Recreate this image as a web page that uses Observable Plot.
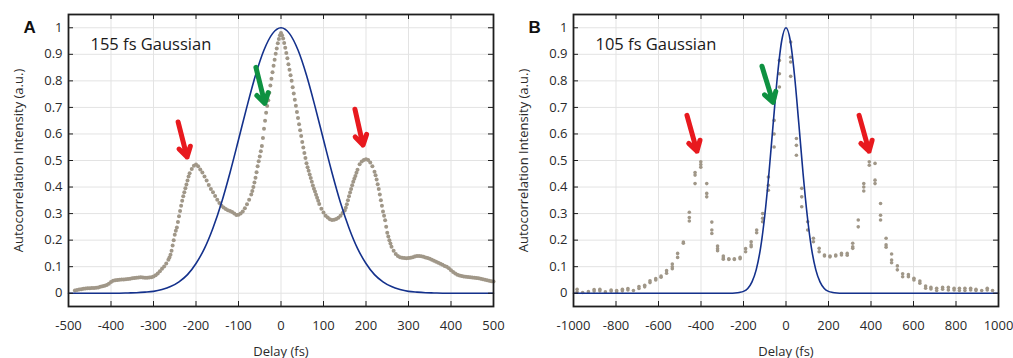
<!DOCTYPE html>
<html><head><meta charset="utf-8">
<script src="https://cdn.jsdelivr.net/npm/d3@7"></script>
<script src="https://cdn.jsdelivr.net/npm/@observablehq/plot@0.6"></script>
<style>
html,body{margin:0;padding:0;background:#fff;}
#wrap{position:relative;width:1013px;height:358px;overflow:hidden;}
#pa{position:absolute;left:0;top:0;}
#pb{position:absolute;left:506px;top:0;}
</style></head>
<body><div id="wrap"><div id="pa"></div><div id="pb"></div></div>
<script>
// ---------- shared ticks ----------
const yTicks = [0, 0.1, 0.2, 0.3, 0.4, 0.5, 0.6, 0.7, 0.8, 0.9, 1];
const yTickLabels = ["0", "0.1", "0.2", "0.3", "0.4", "0.5", "0.6", "0.7", "0.8", "0.9", "1"];
const xTicksA = [-500, -400, -300, -200, -100, 0, 100, 200, 300, 400, 500];
const xTicksB = [-1000, -800, -600, -400, -200, 0, 200, 400, 600, 800, 1000];

// ---------- panel A: measured autocorrelation (155 fs) ----------
const delayA = [
-485,-480,-475,-470,-465,-460,-455,-450,-445,-440,-435,-430,-425,-420,-415,-410,-405,-400,
-395,-390,-385,-380,-375,-370,-365,-360,-355,-350,-345,-340,-335,-330,-325,-320,-315,-310,-305,-300,
-295,-290,-285,-280,-275,-270,-265,-262.5,-260,-257.5,-255,-252.5,-250,-247.5,-245,-242.5,-240,-237.5,
-235,-232.5,-230,-227.5,-225,-222.5,-220,-217.5,-215,-210,-205,-200,
-195,-190,-185,-180,-175,-170,-165,-160,-155,-150,-145,-140,-135,-130,-125,-120,-115,-110,-105,-100,
-95,-90,-85,-80,-75,-70,-67.5,-65,-62.5,-60,-57.5,-55,-52.5,-50,-47.5,-45,-42.5,-40,-37.5,-35,-32.5,-30,
-27.5,-25,-22.5,-20,-17.5,-15,-12.5,-10,-7.5,-5,-2.5,0,
2.5,5,7.5,10,12.5,15,17.5,20,22.5,25,27.5,30,32.5,35,37.5,40,42.5,45,47.5,50,52.5,55,57.5,60,
62.5,65,67.5,70,72.5,75,77.5,80,82.5,85,87.5,90,95,100,105,110,115,120,125,130,135,140,145,150,
152.5,155,157.5,160,162.5,165,167.5,170,172.5,175,177.5,180,185,190,195,200,
205,210,215,220,222.5,225,227.5,230,232.5,235,237.5,240,242.5,245,247.5,250,252.5,255,257.5,260,
265,270,275,280,285,290,295,300,305,310,315,320,325,330,335,340,345,350,355,360,365,370,375,380,385,390,395,400,
405,410,415,420,425,430,435,440,445,450,455,460,465,470,475,480,485,490,495,500
];
const signalA = [
.010,.012,.014,.015,.017,.018,.019,.019,.020,.020,.021,.022,.024,.026,.028,.031,.036,.042,
.047,.049,.050,.051,.052,.052,.053,.054,.055,.056,.057,.058,.059,.060,.059,.058,.058,.059,.060,.063,
.068,.074,.083,.092,.101,.112,.126,.135,.145,.160,.180,.200,.220,.235,.248,.268,.290,.310,
.330,.348,.365,.380,.395,.410,.425,.440,.452,.468,.480,.485,
.478,.466,.455,.440,.425,.408,.393,.380,.366,.352,.340,.330,.323,.317,.313,.310,.306,.300,.295,.296,
.300,.308,.320,.335,.352,.372,.385,.400,.417,.435,.456,.478,.497,.515,.535,.555,.585,.620,.650,.680,.705,.727,
.755,.783,.808,.832,.857,.880,.902,.922,.942,.958,.972,.980,
.972,.960,.943,.925,.905,.885,.863,.842,.821,.800,.776,.752,.729,.706,.683,.660,.637,.614,.592,.570,.549,.528,.509,.490,
.475,.461,.447,.434,.420,.406,.394,.383,.371,.360,.348,.336,.318,.304,.292,.285,.279,.276,.277,.280,.284,.292,.302,.312,
.322,.335,.350,.365,.379,.393,.407,.420,.431,.442,.454,.465,.486,.496,.502,.505,
.502,.492,.478,.458,.444,.428,.411,.393,.372,.350,.330,.308,.292,.275,.250,.228,.214,.200,.187,.175,
.160,.148,.140,.136,.134,.133,.132,.133,.134,.136,.138,.140,.140,.139,.137,.135,.133,.130,.126,.122,.119,.115,.111,.107,.103,.100,.094,.087,
.080,.074,.070,.067,.065,.063,.062,.061,.060,.059,.058,.057,.056,.055,.053,.051,.049,.047,.045,.044
];
// Gaussian fit, panel A
const gaussDelayA = [-500,-480,-460,-440,-420,-400,-380,-360,-340,-320,-300,-280,-260,-240,-220,-200,-180,-160,-140,-120,-100,-80,-60,-40,-20,
0,20,40,60,80,100,120,140,160,180,200,220,240,260,280,300,320,340,360,380,400,420,440,460,480,500];
const gaussA = [0,0,0,0,0,0,0,.001,.002,.004,.007,.014,.025,.043,.070,.112,.169,.246,.341,.454,.578,.704,.821,.916,.978,
1,.978,.916,.821,.704,.578,.454,.341,.246,.169,.112,.070,.043,.025,.014,.007,.004,.002,.001,0,0,0,0,0,0,0];
const arrowsA = [
  {x1: -242, y1: 0.645, x2: -221, y2: 0.513, kind: "side"},
  {x1: -59, y1: 0.851, x2: -38, y2: 0.715, kind: "main"},
  {x1: 174, y1: 0.693, x2: 193, y2: 0.558, kind: "side"}
];

// ---------- panel B: measured autocorrelation (105 fs) ----------
const delayB = [
-983,-983,-957,-930,-903,-903,-876,-876,-850,-823,-823,-797,-797,-770,-770,-744,-744,-718,
-692,-692,-665,-665,-640,-640,-613,-613,-588,-588,-562,-562,-535,-535,-535,-510,-510,-483,-483,
-455,-455,-455,-428,-428,-428,-401,-401,-401,-373,-373,-373,-349,-349,-349,-322,-322,-322,
-295,-295,-295,-269,-269,-243,-243,-216,-216,-190,-190,-164,-164,-164,-138,-138,
-110,-110,-110,-83,-83,-83,-56,-56,-56,-31,-31,-31,22,22,22,22,
49,49,49,74,74,74,102,102,129,129,156,156,181,181,207,207,234,234,261,261,288,288,
314,314,314,340,340,366,366,366,392,392,419,419,419,445,445,445,471,471,471,497,497,497,
524,524,549,549,576,576,602,602,630,630,657,657,682,682,709,709,737,737,764,764,
791,791,816,816,842,842,869,869,894,894,921,947,947,972
];
const signalB = [
.015,.005,.003,.006,.014,.008,.015,.009,.005,.008,.012,.010,.005,.015,.009,.018,.012,.010,
.025,.018,.030,.024,.047,.040,.055,.050,.065,.060,.085,.075,.110,.100,.092,.150,.135,.193,.188,
.305,.285,.272,.455,.445,.413,.495,.485,.475,.413,.376,.363,.268,.238,.225,.178,.168,.160,
.140,.133,.128,.130,.127,.130,.127,.135,.130,.168,.156,.194,.182,.175,.238,.228,
.300,.282,.269,.438,.407,.388,.651,.600,.551,.877,.827,.777,.946,.889,.871,.817,
.583,.557,.520,.395,.363,.326,.269,.238,.207,.194,.169,.156,.144,.140,.140,.137,.144,.140,.150,.144,.150,.143,
.188,.175,.169,.276,.250,.413,.400,.385,.495,.482,.489,.426,.413,.338,.294,.276,.207,.182,.173,.148,.125,.115,
.103,.088,.073,.062,.070,.062,.056,.050,.046,.038,.027,.019,.022,.016,.019,.010,.022,.015,.022,.012,
.019,.012,.019,.010,.019,.010,.019,.012,.015,.010,.010,.019,.012,.010
];
// Gaussian fit, panel B
const gaussDelayB = [-1000,-300,-280,-260,-240,-220,-200,-180,-160,-140,-120,-100,-80,-60,-40,-20,
0,20,40,60,80,100,120,140,160,180,200,220,240,260,280,300,1000];
const gaussB = [0,0,0,0,.001,.003,.007,.018,.043,.089,.169,.292,.454,.642,.821,.952,
1,.952,.821,.642,.454,.292,.169,.089,.043,.018,.007,.003,.001,0,0,0,0];
const arrowsB = [
  {x1: -466, y1: 0.670, x2: -419, y2: 0.535, kind: "side"},
  {x1: -113, y1: 0.855, x2: -61, y2: 0.719, kind: "main"},
  {x1: 344, y1: 0.670, x2: 391, y2: 0.535, kind: "side"}
];

// ---------- drawing ----------
const INK = "#1e1e1e";
const GRID = "#e3e3e3";
const DOT = "#a09788";
const FIT = "#14318c";
const RED = "#e8191e";
const GREEN = "#0e9141";
const FONT = '"Open Sans", sans-serif';

function panel({letter, note, xDomain, xTicks, delays, signal, gDelay, gVal, arrows, width, marginLeft, marginRight, r}) {
  const H = 358, mt = 14, mb = 52;
  const ph = H - mt - mb, pw = width - marginLeft - marginRight, tl = 5;
  const pts = delays.map((x, i) => ({x, y: signal[i]}));
  const fit = gDelay.map((x, i) => ({x, y: gVal[i]}));
  const arrowMark = (kind, color) => Plot.arrow(arrows.filter(d => d.kind === kind), {
    x1: "x1", y1: "y1", x2: "x2", y2: "y2", stroke: color, strokeWidth: 5,
    headLength: 3.4, headAngle: 62
  });
  return Plot.plot({
    width, height: H, marginLeft, marginRight, marginTop: mt, marginBottom: mb,
    style: {fontFamily: FONT, fontSize: "13px", color: "#2a2a2a", background: "#fff"},
    x: {domain: xDomain},
    y: {domain: [-0.05, 1.05]},
    marks: [
      Plot.gridX(xTicks, {stroke: GRID, strokeOpacity: 1}),
      Plot.gridY(yTicks, {stroke: GRID, strokeOpacity: 1}),
      Plot.axisX(xTicks, {tickSize: 0, tickPadding: 14, tickFormat: d => String(d),
        label: "Delay (fs)", labelAnchor: "center", labelOffset: 49, labelArrow: "none"}),
      Plot.axisY(yTicks, {tickSize: 0, tickPadding: 6, tickFormat: d => yTickLabels[yTicks.indexOf(d)],
        label: "Autocorrelation Intensity (a.u.)", labelAnchor: "center", labelOffset: 55, labelArrow: "none"}),
      Plot.dot(pts, {x: "x", y: "y", r, fill: DOT, stroke: "none"}),
      Plot.line(fit, {x: "x", y: "y", stroke: FIT, strokeWidth: 1.6, curve: "monotone-x"}),
      arrowMark("side", RED),
      arrowMark("main", GREEN),
      Plot.text([note], {text: d => d, frameAnchor: "top-left", dx: 22, dy: 30, fontSize: 16.5,
        textAnchor: "start", lineAnchor: "middle", fill: "#1a1a1a"}),
      Plot.text([letter], {text: d => d, frameAnchor: "top-left", dx: -45, dy: 13.5, fontSize: 17,
        fontWeight: "bold", fontFamily: "Liberation Sans, Arial, sans-serif", lineAnchor: "middle", fill: "#111"}),
      Plot.tickX(xTicks, {x: d => d, insetTop: ph - tl, stroke: INK}),
      Plot.tickX(xTicks, {x: d => d, insetBottom: ph - tl, stroke: INK}),
      Plot.tickY(yTicks, {y: d => d, insetLeft: pw - tl, stroke: INK}),
      Plot.tickY(yTicks, {y: d => d, insetRight: pw - tl, stroke: INK}),
      Plot.frame({stroke: INK, strokeWidth: 1.8})
    ]
  });
}

document.getElementById("pa").append(panel({
  letter: "A", note: "155 fs Gaussian", xDomain: [-500, 500], xTicks: xTicksA,
  delays: delayA, signal: signalA, gDelay: gaussDelayA, gVal: gaussA, arrows: arrowsA,
  width: 506, marginLeft: 68, marginRight: 13, r: 2
}));
document.getElementById("pb").append(panel({
  letter: "B", note: "105 fs Gaussian", xDomain: [-1000, 1000], xTicks: xTicksB,
  delays: delayB, signal: signalB, gDelay: gaussDelayB, gVal: gaussB, arrows: arrowsB,
  width: 507, marginLeft: 67, marginRight: 15, r: 1.8
}));
</script>
</body></html>
